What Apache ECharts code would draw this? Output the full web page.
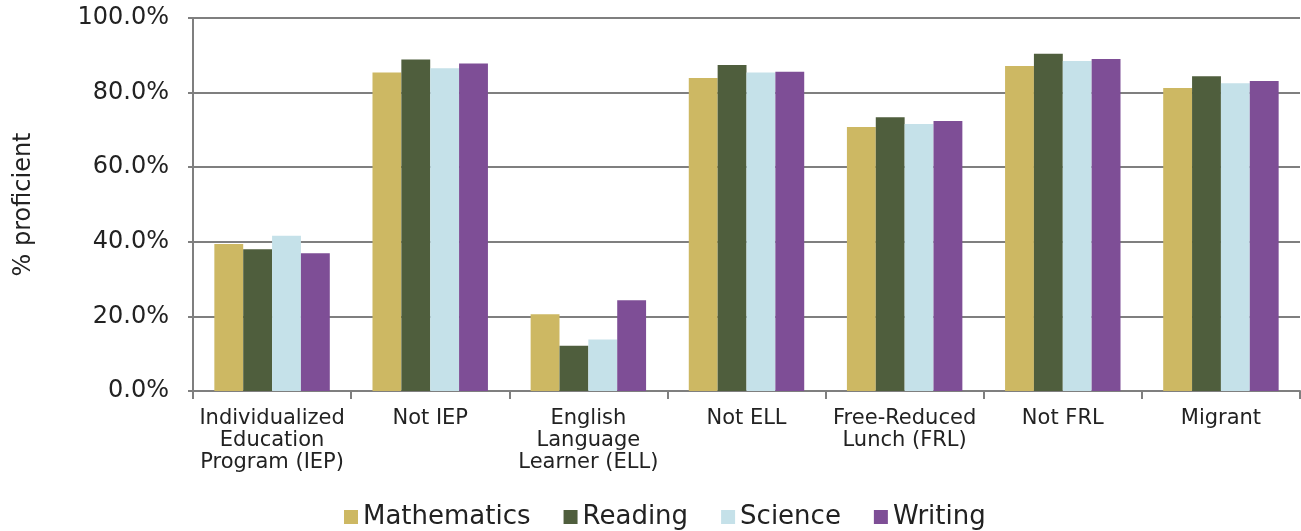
<!DOCTYPE html>
<html>
<head>
  <meta charset="utf-8">
  <title>% proficient</title>
  <script src="https://cdn.jsdelivr.net/npm/echarts@6/dist/echarts.min.js"></script>
  <style>
    html, body { margin: 0; padding: 0; background: #fff; }
    #chart { width: 1301px; height: 531px; }
  </style>
</head>
<body>
<div id="chart"></div>
<script>
var categories = ['Individualized\nEducation\nProgram (IEP)', 'Not IEP', 'English\nLanguage\nLearner (ELL)',
  'Not ELL', 'Free-Reduced\nLunch (FRL)', 'Not FRL', 'Migrant'];
var mathematics = [39.4, 85.4, 20.6, 83.9, 70.8, 87.1, 81.2];
var reading     = [38.0, 88.9, 12.1, 87.4, 73.4, 90.4, 84.4];
var science     = [41.6, 86.5, 13.8, 85.4, 71.6, 88.5, 82.5];
var writing     = [36.9, 87.8, 24.3, 85.6, 72.4, 89.0, 83.1];

var fontName = 'DejaVu Sans';
var myChart = echarts.init(document.getElementById('chart'));

function bar(name, data, color) {
  return {
    name: name,
    type: 'bar',
    data: data,
    barGap: '0%',
    barCategoryGap: '27%',
    itemStyle: { color: color }
  };
}

var option = {
  animation: false,
  textStyle: { fontFamily: fontName },
  grid: { left: 193, right: 1, top: 18, bottom: 140 },
  legend: {
    top: 499,
    left: 339,
    itemWidth: 14,
    itemHeight: 14,
    itemGap: 33,
    icon: 'rect',
    textStyle: { fontSize: 26, color: '#222', fontFamily: fontName },
    data: ['Mathematics', 'Reading', 'Science', 'Writing']
  },
  xAxis: {
    type: 'category',
    data: categories,
    axisLine: { lineStyle: { color: '#7f7f7f', width: 2 } },
    axisTick: { show: true, length: 8, lineStyle: { color: '#7f7f7f', width: 2 } },
    axisLabel: { fontSize: 21, color: '#222', lineHeight: 22, margin: 17, interval: 0 }
  },
  yAxis: {
    type: 'value',
    min: 0,
    max: 100,
    interval: 20,
    name: '% proficient',
    nameLocation: 'middle',
    nameGap: 157,
    nameTextStyle: { fontSize: 24, color: '#222' },
    axisLine: { show: true, lineStyle: { color: '#7f7f7f', width: 2 } },
    axisTick: { show: true, length: 5, lineStyle: { color: '#7f7f7f', width: 2 } },
    splitLine: { lineStyle: { color: '#7f7f7f', width: 2 } },
    axisLabel: {
      fontSize: 24, color: '#222', margin: 24,
      formatter: function (v) { return v.toFixed(1) + '%'; }
    }
  },
  series: [
    bar('Mathematics', mathematics, '#cdb863'),
    bar('Reading', reading, '#4f5e3d'),
    bar('Science', science, '#c5e1e9'),
    bar('Writing', writing, '#7e4e96')
  ]
};
myChart.setOption(option);
</script>
</body>
</html>
